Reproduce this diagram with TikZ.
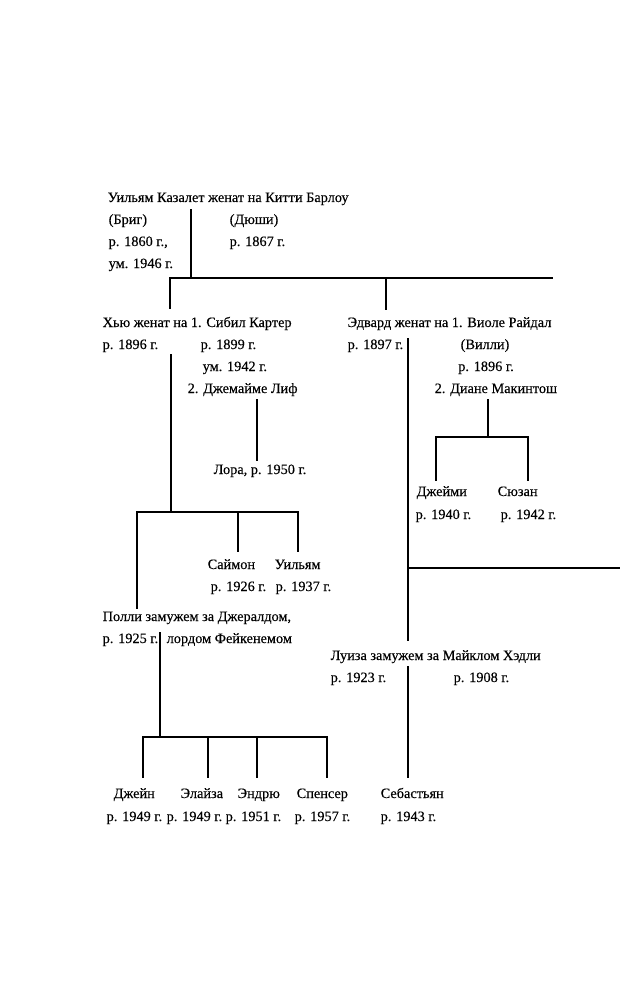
\documentclass[tikz,border=0pt]{standalone}
\usepackage{fontspec}
\setmainfont[FakeBold=0.3]{Liberation Serif}
\begin{document}
\begin{tikzpicture}[x=1pt,y=-1pt,line width=1.4pt,line cap=rect,
                    name node/.style={anchor=base west,inner sep=0pt,font=\fontsize{14.3}{17}\selectfont},
                    mid node/.style={name node,anchor=base}]

          \useasboundingbox (0,0) rectangle (619,1000);

          % William and Kitty
          \node[name node] (william) at (107,202) {Уильям Казалет женат на Китти Барлоу};
          \node[name node] (brig)    at (108,224) {(Бриг)};
          \node[name node] (brigb)   at (108,246) {р. 1860 г.,};
          \node[name node] (brigd)   at (108,268) {ум. 1946 г.};
          \node[name node] (duchy)   at (229,224) {(Дюши)};
          \node[name node] (duchyb)  at (229,246) {р. 1867 г.};

          % Hugh
          \node[name node] (hugh)    at (102,327) {Хью женат на 1. Сибил Картер};
          \node[name node] (hughb)   at (102,349) {р. 1896 г.};
          \node[name node] (sybilb)  at (200,349) {р. 1899 г.};
          \node[name node] (sybild)  at (202,371) {ум. 1942 г.};
          \node[name node] (jemima)  at (187,393) {2. Джемайме Лиф};
          \node[name node] (lora)    at (213,474) {Лора, р. 1950 г.};

          % Edward
          \node[name node] (edward)  at (347,327) {Эдвард женат на 1. Виоле Райдал};
          \node[name node] (edwardb) at (347,349) {р. 1897 г.};
          \node[mid node]  (villy)   at (485,349) {(Вилли)};
          \node[mid node]  (villyb)  at (486,371) {р. 1896 г.};
          \node[name node] (diana)   at (434,393) {2. Диане Макинтош};
          \node[name node] (jamie)   at (416,496) {Джейми};
          \node[name node] (jamieb)  at (415,519) {р. 1940 г.};
          \node[name node] (susan)   at (497,496) {Сюзан};
          \node[name node] (susanb)  at (500,519) {р. 1942 г.};

          % Hugh's children
          \node[name node] (simon)   at (207,569) {Саймон};
          \node[name node] (simonb)  at (210,591) {р. 1926 г.};
          \node[name node] (wills)   at (274,569) {Уильям};
          \node[name node] (willsb)  at (275,591) {р. 1937 г.};
          \node[name node] (polly)   at (102,621) {Полли замужем за Джералдом,};
          \node[name node] (pollyb)  at (102,643) {р. 1925 г.};
          \node[name node] (gerald)  at (166,643) {лордом Фейкенемом};

          % Louise
          \node[name node] (louise)  at (330,660) {Луиза замужем за Майклом Хэдли};
          \node[name node] (louiseb) at (330,682) {р. 1923 г.};
          \node[name node] (michael) at (453,682) {р. 1908 г.};

          % grandchildren
          \node[name node] (jane)    at (113,798) {Джейн};
          \node[name node] (janeb)   at (106,821) {р. 1949 г.};
          \node[name node] (eliza)   at (180,798) {Элайза};
          \node[name node] (elizab)  at (166,821) {р. 1949 г.};
          \node[name node] (andrew)  at (237,798) {Эндрю};
          \node[name node] (andrewb) at (225,821) {р. 1951 г.};
          \node[name node] (spencer) at (296,798) {Спенсер};
          \node[name node] (spencerb) at (294,821) {р. 1957 г.};
          \node[name node] (seb)     at (380,798) {Себастьян};
          \node[name node] (sebb)    at (380,821) {р. 1943 г.};

          % line ends
          \coordinate (1) at (191,210);
          \coordinate (2) at (191,278);
          \coordinate (3) at (170,278);
          \coordinate (4) at (552,278);
          \coordinate (5) at (170,308);
          \coordinate (6) at (386,278);
          \coordinate (7) at (386,309);

          \coordinate (8) at (171,355);
          \coordinate (9) at (171,512);
          \coordinate (10) at (257,400);
          \coordinate (11) at (257,460);
          \coordinate (12) at (137,512);
          \coordinate (13) at (298,512);
          \coordinate (14) at (137,608);
          \coordinate (15) at (238,512);
          \coordinate (16) at (238,551);
          \coordinate (17) at (298,551);

          \coordinate (18) at (160,633);
          \coordinate (19) at (160,737);
          \coordinate (20) at (143,737);
          \coordinate (21) at (327,737);
          \coordinate (22) at (143,777);
          \coordinate (23) at (208,737);
          \coordinate (24) at (208,777);
          \coordinate (25) at (257,737);
          \coordinate (26) at (257,777);
          \coordinate (27) at (327,777);

          \coordinate (28) at (408,339);
          \coordinate (29) at (408,568);
          \coordinate (30) at (408,640);
          \coordinate (31) at (619,568);
          \coordinate (32) at (488,400);
          \coordinate (33) at (488,437);
          \coordinate (34) at (436,437);
          \coordinate (35) at (528,437);
          \coordinate (36) at (436,480);
          \coordinate (37) at (528,480);
          \coordinate (38) at (408,667);
          \coordinate (39) at (408,777);

          \path
          (1) edge (2)
          (3) edge (4)
          (3) edge (5)
          (6) edge (7)

          (8) edge (9)
          (10) edge (11)
          (12) edge (13)
          (12) edge (14)
          (15) edge (16)
          (13) edge (17)

          (18) edge (19)
          (20) edge (21)
          (20) edge (22)
          (23) edge (24)
          (25) edge (26)
          (21) edge (27)

          (28) edge (30)
          (29) edge (31)
          (32) edge (33)
          (34) edge (35)
          (34) edge (36)
          (35) edge (37)
          (38) edge (39);

        \end{tikzpicture}
\end{document}
